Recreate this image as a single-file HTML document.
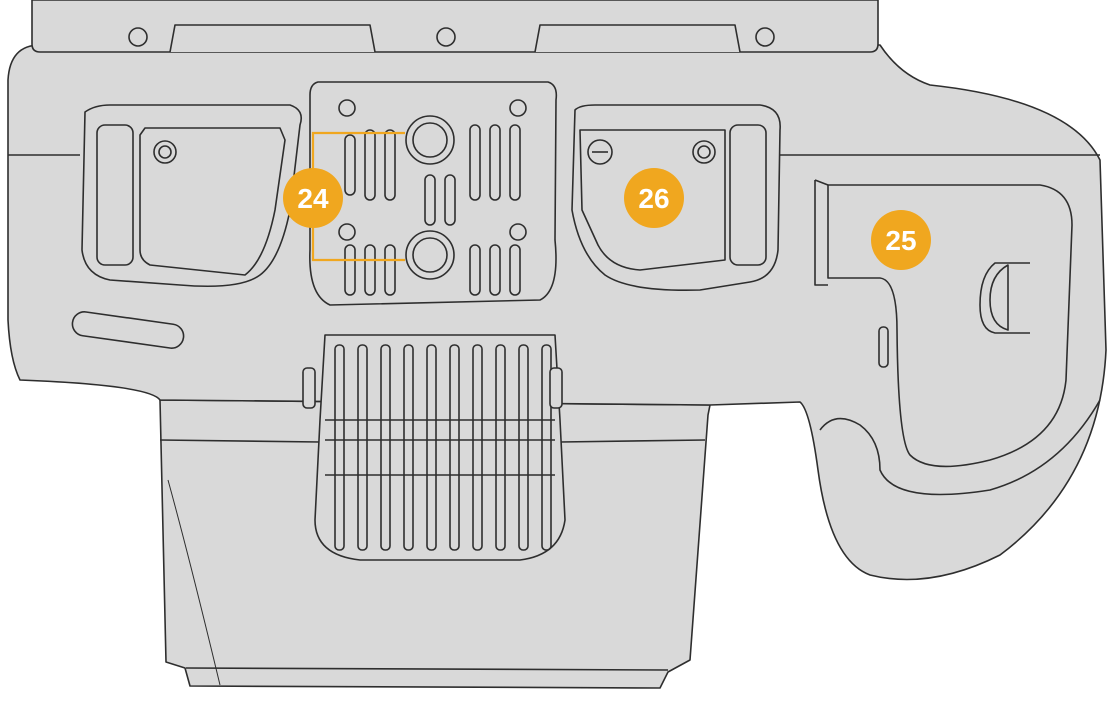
<!DOCTYPE html>
<html><head><meta charset="utf-8"><style>
html,body{margin:0;padding:0;background:#fff;width:1114px;height:703px;overflow:hidden}
svg{display:block}
text{font-family:"Liberation Sans",sans-serif;font-weight:bold;fill:#fff}
</style></head><body>
<svg width="1114" height="703" viewBox="0 0 1114 703" xmlns="http://www.w3.org/2000/svg">
<g fill="#d9d9d9" stroke="#2e2e2e" stroke-width="1.6" stroke-linejoin="round">
<!-- lower body -->
<path d="M160 400 L166 662 L185 668 L190 686 L660 688 L668 672 L690 660 L708 415 L710 405 Z"/>
<path d="M186 668 L668 670" fill="none"/>
<path d="M168 480 Q190 560 220 685" fill="none" stroke-width="1"/>
<!-- main body with grip -->
<path d="M40 45 L880 45 Q900 75 930 85 Q1070 100 1100 160 L1106 350 Q1100 480 1000 555 Q930 590 870 575 Q830 560 818 470 Q810 410 800 402 L710 405 L160 400 Q150 385 20 380 Q10 360 8 320 L8 80 Q10 45 40 45 Z"/>
<path d="M8 155 L80 155 M780 155 L1100 155"/>
<path d="M160 440 L320 442 M560 442 L705 440"/>
<!-- top strip -->
<path d="M32 0 L878 0 L878 44 Q878 52 870 52 L40 52 Q32 52 32 44 Z"/>
<path d="M170 52 L175 25 L370 25 L375 52 M535 52 L540 25 L735 25 L740 52"/>
<!-- grip inner -->
<path d="M828 185 L1040 185 Q1072 190 1072 225 L1066 380 Q1060 440 990 460 Q930 475 910 455 Q898 440 897 330 Q897 280 880 278 L828 278 Z" fill="none"/>
<path d="M815 180 L815 285 L828 285 M815 180 L828 185" fill="none"/>
<path d="M820 430 Q835 410 860 425 Q880 440 880 470 Q895 505 990 490 Q1060 470 1100 400" fill="none"/>
<path d="M1030 263 L995 263 Q980 275 980 305 Q980 330 995 333 L1030 333" fill="none"/>
<path d="M1008 265 Q990 275 990 300 Q990 325 1008 330 Z"/>
<rect x="879" y="327" width="9" height="40" rx="4"/>
<!-- left panel -->
<path d="M85 112 Q95 105 110 105 L290 105 Q305 110 300 125 L290 210 Q280 260 260 275 Q240 290 180 285 L110 280 Q85 275 82 250 Z"/>
<path d="M145 128 L280 128 L285 140 L275 210 Q265 260 245 275 L150 265 Q140 260 140 250 L140 135 Z"/>
<rect x="97" y="125" width="36" height="140" rx="8"/>
<circle cx="165" cy="152" r="11"/><circle cx="165" cy="152" r="6"/>
<rect x="72" y="318" width="112" height="24" rx="12" transform="rotate(8 128 330)"/>
<!-- right panel -->
<path d="M575 110 Q580 105 595 105 L760 105 Q782 108 780 130 L778 250 Q775 278 750 282 L700 290 Q630 292 605 275 Q580 255 572 210 Z"/>
<path d="M580 130 L725 130 L725 260 L640 270 Q610 268 598 245 L582 210 Z"/>
<rect x="730" y="125" width="36" height="140" rx="8"/>
<circle cx="600" cy="152" r="12"/><path d="M592 152 L608 152" />
<circle cx="704" cy="152" r="11"/><circle cx="704" cy="152" r="6"/>
<!-- center plate -->
<path d="M318 82 L548 82 Q558 85 556 100 L555 240 Q560 290 540 300 L330 305 Q308 295 310 250 L310 95 Q310 84 318 82 Z"/>
<g fill="none"><rect x="345" y="135" width="10" height="60" rx="5"/><rect x="345" y="245" width="10" height="50" rx="5"/>
<rect x="365" y="130" width="10" height="70" rx="5"/><rect x="365" y="245" width="10" height="50" rx="5"/>
<rect x="385" y="130" width="10" height="70" rx="5"/><rect x="385" y="245" width="10" height="50" rx="5"/>
<rect x="470" y="125" width="10" height="75" rx="5"/><rect x="470" y="245" width="10" height="50" rx="5"/>
<rect x="490" y="125" width="10" height="75" rx="5"/><rect x="490" y="245" width="10" height="50" rx="5"/>
<rect x="510" y="125" width="10" height="75" rx="5"/><rect x="510" y="245" width="10" height="50" rx="5"/>
<rect x="425" y="175" width="10" height="50" rx="5"/><rect x="445" y="175" width="10" height="50" rx="5"/></g>
<circle cx="430" cy="140" r="24"/><circle cx="430" cy="140" r="17"/>
<circle cx="430" cy="255" r="24"/><circle cx="430" cy="255" r="17"/>
<circle cx="347" cy="108" r="8"/><circle cx="518" cy="108" r="8"/>
<circle cx="347" cy="232" r="8"/><circle cx="518" cy="232" r="8"/>
<!-- top screws -->
<circle cx="138" cy="37" r="9"/><circle cx="446" cy="37" r="9"/><circle cx="765" cy="37" r="9"/>
<!-- vent -->
<path d="M325 335 L555 335 L560 420 L565 520 Q560 555 520 560 L360 560 Q315 555 315 520 L320 420 Z"/>
<path d="M325 420 L555 420 M325 440 L555 440 M325 475 L555 475" fill="none"/>
<g fill="none">
<rect x="335" y="345" width="9" height="205" rx="4"/><rect x="358" y="345" width="9" height="205" rx="4"/>
<rect x="381" y="345" width="9" height="205" rx="4"/><rect x="404" y="345" width="9" height="205" rx="4"/>
<rect x="427" y="345" width="9" height="205" rx="4"/><rect x="450" y="345" width="9" height="205" rx="4"/>
<rect x="473" y="345" width="9" height="205" rx="4"/><rect x="496" y="345" width="9" height="205" rx="4"/>
<rect x="519" y="345" width="9" height="205" rx="4"/><rect x="542" y="345" width="9" height="205" rx="4"/>
</g>
<rect x="303" y="368" width="12" height="40" rx="4"/><rect x="550" y="368" width="12" height="40" rx="4"/>
</g>
<path d="M405 133 L313 133 L313 260 L405 260" fill="none" stroke="#f0a71f" stroke-width="2.2"/>
<g fill="#f0a71f">
<circle cx="313" cy="198" r="30"/><circle cx="654" cy="198" r="30"/><circle cx="901" cy="240" r="30"/>
</g>
<text x="313" y="208" font-size="28" text-anchor="middle">24</text>
<text x="654" y="208" font-size="28" text-anchor="middle">26</text>
<text x="901" y="250" font-size="28" text-anchor="middle">25</text>
</svg>
</body></html>
